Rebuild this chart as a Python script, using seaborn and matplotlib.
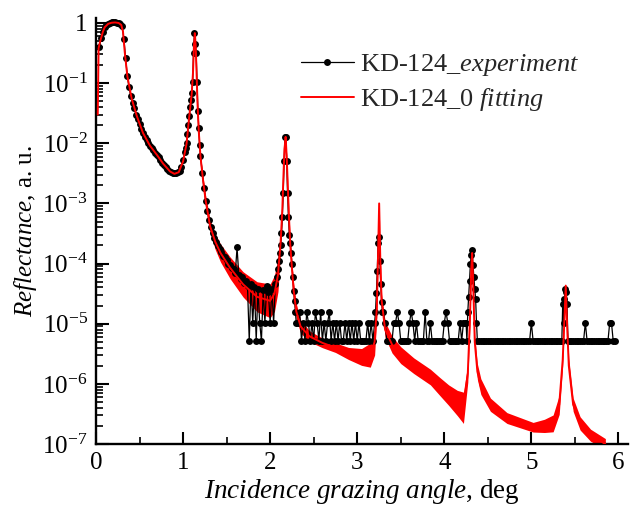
import numpy as np
import pandas as pd
import matplotlib
matplotlib.use("Agg")
import matplotlib.pyplot as plt
import seaborn as sns
from matplotlib.ticker import LogLocator, MultipleLocator, FixedLocator, FuncFormatter, NullFormatter

# ---------------- measured reflectance (scan segments: start, step, values) ----------------
count_unit = 5.2e-6  # reflectance of one detector count

edge_refl = [0.40, 0.56, 0.72, 0.85, 0.93, 0.98, 1.0, 1.02, 1.02, 1.02,
             1.01, 1.0, 0.96, 0.88, 0.55, 0.26, 0.13, 0.085, 0.060, 0.047,
             0.038, 0.030, 0.025, 0.021, 0.0175, 0.0148, 0.0128, 0.0112, 0.0100, 0.0091,
             0.0083, 0.0076, 0.0070, 0.0064, 0.0058, 0.0052, 0.0047, 0.0043, 0.0040, 0.0037,
             0.0035, 0.0033, 0.0032, 0.0032, 0.0032, 0.0033, 0.0035, 0.0041, 0.0052, 0.0072]
bragg1_refl = [0.0085, 0.010, 0.014, 0.020, 0.028, 0.040, 0.052, 0.068, 0.105, 0.32,
               0.67, 0.45, 0.32, 0.105, 0.035, 0.018, 0.0095, 0.0062]
tail1_refl = [3.2e-3, 1.8e-3, 1.1e-3, 7.5e-4, 5.2e-4, 4.0e-4, 3.2e-4, 2.7e-4, 2.3e-4, 1.95e-4,
              1.75e-4, 1.55e-4, 1.35e-4, 1.3e-4, 1.15e-4, 1.0e-4, 9.5e-5, 8.5e-5, 8.0e-5, 7.0e-5,
              1.85e-4, 6.5e-5, 5.5e-5, 6.0e-5, 4.8e-5, 5.2e-5, 4.2e-5, 5.2e-6, 4.5e-5, 1.04e-5,
              4.0e-5, 5.2e-6, 3.8e-5, 1.04e-5, 5.2e-6, 3.6e-5, 1.04e-5, 4.2e-5, 3.4e-5, 1.04e-5,
              3.8e-5, 1.04e-5, 4.5e-5, 6.0e-5]
bragg2_refl = [8.0e-5, 1.1e-4, 1.5e-4, 2.0e-4, 3.2e-4, 6.0e-4, 1.5e-3, 5.0e-3, 0.0125, 0.0128,
               5.0e-3, 1.5e-3, 6.0e-4, 3.0e-4, 2.2e-4, 1.5e-4, 1.0e-4, 6.0e-5, 3.5e-5, 2.4e-5,
               1.56e-5, 1.04e-5]
floor_a_counts = [2, 3, 1, 2, 1, 3, 2, 1, 2, 1,
                  3, 2, 1, 3, 1, 2, 1, 2, 3, 1,
                  2, 1, 2, 1, 2, 1, 1, 2, 1, 2,
                  1, 2, 1, 2, 1, 2, 1, 1, 1, 1,
                  2, 1, 2, 1, 2]
bragg3_refl = [1.56e-5, 3.2e-5, 7.5e-5, 2.2e-4, 2.75e-4, 1.1e-4, 4.5e-5, 2.3e-5, 1.56e-5, 1.56e-5]
floor_b_counts = [2, 1, 1, 1, 1, 2, 2, 3, 2, 1,
                  1, 1, 1, 1, 2, 3, 2, 1, 2, 1,
                  1, 1, 1, 3, 1, 1, 2, 1, 1, 1,
                  1, 1, 1, 1, 2, 3, 2, 1, 1, 1,
                  1, 1, 1, 2, 1, 2, 2]
bragg4_refl = [1.04e-5, 5.2e-6, 1.56e-5, 2.75e-5, 5.2e-5, 1.0e-4, 1.4e-4, 1.65e-4, 9.3e-5, 5.9e-5,
               3.8e-5, 2.6e-5, 1.04e-5, 5.2e-6]
floor_c_counts = [1, 1, 1, 1, 1, 1, 1, 1, 1, 1,
                  1, 1, 1, 1, 1, 1, 1, 1, 1, 1,
                  1, 1, 1, 1, 1, 1, 1, 1, 1, 1,
                  2, 1, 1, 1, 1, 1, 1, 1, 1, 1,
                  1, 1, 1, 1, 1, 1, 1, 1]
bragg5_refl = [5.2e-6, 2.1e-5, 1.04e-5, 2.6e-5, 3.8e-5, 3.4e-5, 2.1e-5, 5.2e-6]
floor_d_counts = [1, 1, 1, 1, 1, 1, 1, 1, 1, 2,
                  1, 1, 1, 1, 1, 1, 1, 1, 1, 1,
                  1, 1, 1, 2, 2, 1, 1]

exp_segments = [
    (0.04, 0.02, edge_refl),
    (1.03, 0.01, bragg1_refl),
    (1.22, 0.02, tail1_refl),
    (2.09, 0.01, bragg2_refl),
    (2.32, 0.02, [c * count_unit for c in floor_a_counts]),
    (3.21, 0.01, bragg3_refl),
    (3.32, 0.02, [c * count_unit for c in floor_b_counts]),
    (4.25, 0.01, bragg4_refl),
    (4.40, 0.02, [c * count_unit for c in floor_c_counts]),
    (5.35, 0.01, bragg5_refl),
    (5.44, 0.02, [c * count_unit for c in floor_d_counts]),
]

# ---------------- model fit (centre line and fringe amplitude in decades) ----------------
fit_angle = [0.02, 0.03, 0.04, 0.06, 0.08, 0.10, 0.14, 0.18, 0.22, 0.26,
             0.29, 0.31, 0.33, 0.36, 0.41, 0.47, 0.54, 0.62, 0.70, 0.77,
             0.85, 0.90, 0.95, 1.00, 1.04, 1.07, 1.10, 1.115, 1.125, 1.135,
             1.145, 1.155, 1.165, 1.18, 1.20, 1.23, 1.26, 1.31, 1.37, 1.43,
             1.54, 1.69, 1.85, 2.00, 2.05, 2.09, 2.12, 2.14, 2.155, 2.165,
             2.178, 2.19, 2.20, 2.215, 2.23, 2.25, 2.27, 2.30, 2.35, 2.45,
             2.60, 2.75, 2.90, 3.05, 3.15, 3.20, 3.225, 3.24, 3.252, 3.265,
             3.28, 3.32, 3.40, 3.50, 3.65, 3.84, 3.95, 4.05, 4.15, 4.22,
             4.27, 4.295, 4.31, 4.32, 4.33, 4.35, 4.38, 4.42, 4.53, 4.72,
             5.02, 5.15, 5.25, 5.32, 5.36, 5.38, 5.395, 5.41, 5.43, 5.48,
             5.56, 5.68, 5.85]
fit_refl = [0.03, 0.38, 0.45, 0.57, 0.72, 0.85, 0.97, 1.01, 1.02, 1.0,
            0.93, 0.72, 0.33, 0.13, 0.055, 0.028, 0.0148, 0.0091, 0.0064, 0.0046,
            0.0034, 0.0031, 0.0033, 0.0050, 0.0098, 0.027, 0.068, 0.16, 0.42, 0.68,
            0.42, 0.15, 0.05, 0.016, 0.0060, 0.0024, 0.0011, 4.2e-4, 2.3e-4, 1.5e-4,
            8.5e-5, 4.5e-5, 2.8e-5, 2.4e-5, 3.2e-5, 6.5e-5, 2.2e-4, 8.0e-4, 3.5e-3, 8.0e-3,
            0.0128, 6.0e-3, 2.5e-3, 6.5e-4, 2.2e-4, 8.5e-5, 3.6e-5, 1.6e-5, 9.0e-6, 6.2e-6,
            4.8e-6, 4.0e-6, 3.2e-6, 2.8e-6, 3.0e-6, 5.0e-6, 1.8e-5, 1.5e-4, 1.0e-3, 1.2e-4,
            2.5e-5, 8.0e-6, 4.5e-6, 3.0e-6, 2.0e-6, 1.3e-6, 9.0e-7, 6.5e-7, 4.8e-7, 4.0e-7,
            1.5e-6, 1.2e-5, 8.0e-5, 1.5e-4, 6.0e-5, 5.0e-6, 1.6e-6, 9.0e-7, 4.5e-7, 2.7e-7,
            1.9e-7, 2.0e-7, 2.2e-7, 4.5e-7, 2.5e-6, 1.2e-5, 4.3e-5, 1.0e-5, 2.0e-6, 4.5e-7,
            2.2e-7, 1.4e-7, 1.0e-7]
fit_ripple = [0, 0, 0, 0, 0, 0, 0, 0, 0, 0,
              0, 0, 0, 0, 0, 0, 0, 0, 0, 0,
              0, 0, 0, 0, 0, 0, 0, 0, 0, 0,
              0, 0, 0, 0.02, 0.04, 0.06, 0.08, 0.11, 0.13, 0.15,
              0.18, 0.21, 0.25, 0.28, 0.30, 0.28, 0.15, 0.08, 0.04, 0.02,
              0.02, 0.03, 0.04, 0.06, 0.08, 0.10, 0.12, 0.13, 0.11, 0.09,
              0.08, 0.08, 0.10, 0.14, 0.20, 0.22, 0.15, 0.06, 0.02, 0.06,
              0.10, 0.13, 0.14, 0.14, 0.13, 0.13, 0.15, 0.17, 0.21, 0.26,
              0.15, 0.08, 0.04, 0.02, 0.05, 0.10, 0.13, 0.13, 0.11, 0.09,
              0.08, 0.11, 0.14, 0.16, 0.10, 0.06, 0.02, 0.06, 0.12, 0.11,
              0.11, 0.10, 0.09]

x_ticks = [0, 1, 2, 3, 4, 5, 6]
y_decades = [-7, -6, -5, -4, -3, -2, -1, 0]

# ---------------- assemble tables ----------------
angles, refl = [], []
for start, step, vals in exp_segments:
    angles.append(np.round(start + step * np.arange(len(vals)), 3))
    refl.append(np.asarray(vals, dtype=float))
exp_df = pd.DataFrame({"angle": np.concatenate(angles), "refl": np.concatenate(refl)})

fit_df = pd.DataFrame({"angle": fit_angle, "refl": fit_refl, "ripple": fit_ripple})
fit_df["lo"] = fit_df["refl"] / 10 ** fit_df["ripple"]
fit_df["hi"] = fit_df["refl"] * 10 ** fit_df["ripple"]

# ---------------- style ----------------
sns.set_theme(style="ticks")
plt.rcParams.update({
    "font.family": ["Liberation Serif", "DejaVu Serif"],
    "mathtext.fontset": "custom",
    "mathtext.rm": "Liberation Serif",
    "mathtext.it": "Liberation Serif:italic",
    "mathtext.bf": "Liberation Serif:bold",
    "axes.unicode_minus": True,
})

fig = plt.figure(figsize=(6.3, 5.08), dpi=100)
ax = fig.add_axes([96 / 630, 1 - 444 / 508, (628 - 96) / 630, (444 - 18) / 508])

# fringe envelope of the fit sits under the measured points, fit centre line on top
ax.fill_between(fit_df["angle"], fit_df["lo"], fit_df["hi"], color="red", lw=0, zorder=1.5)
sns.lineplot(data=exp_df, x="angle", y="refl", ax=ax, color="black", lw=0.9,
             marker="o", markersize=5, markeredgewidth=0, estimator=None, sort=False,
             label="KD-124_$\\mathit{experiment}$", zorder=2)
sns.lineplot(data=fit_df, x="angle", y="refl", ax=ax, color="red", lw=1.4,
             estimator=None, sort=False, label="KD-124_0 $\\mathit{fitting}$", zorder=4)

ax.set_yscale("log")
ax.set_ylim(1e-7, 1.21)
ax.set_xlim(0, 6.11)

ax.xaxis.set_minor_locator(MultipleLocator(0.5))
ax.set_xticks(x_ticks)
ax.set_xticklabels([str(t) for t in x_ticks])
ax.yaxis.set_major_locator(FixedLocator([10.0 ** e for e in y_decades]))
ax.yaxis.set_minor_locator(LogLocator(base=10, subs=np.arange(2, 10), numticks=20))
ax.yaxis.set_minor_formatter(NullFormatter())


def decade_label(v, pos):
    e = int(round(np.log10(v)))
    return "1" if e == 0 else r"$10^{%d}$" % e


ax.yaxis.set_major_formatter(FuncFormatter(decade_label))

ax.tick_params(which="both", direction="in", top=False, right=False, colors="black",
               labelsize=18, labelcolor="black")
ax.tick_params(which="major", length=9, width=1.5, pad=6)
ax.tick_params(which="minor", length=5, width=1.2)
for side in ("top", "right"):
    ax.spines[side].set_visible(False)
for side in ("left", "bottom"):
    ax.spines[side].set_linewidth(1.7)
    ax.spines[side].set_color("black")

ax.set_xlabel(r"$\mathit{Incidence\ grazing\ angle}$, deg", fontsize=19.5, labelpad=2,
              color="black")
ax.set_ylabel(r"$\mathit{Reflectance}$, a. u.", fontsize=18, labelpad=2, color="black")

ax.legend(loc="upper left", bbox_to_anchor=(0.385, 0.92), frameon=False, fontsize=19,
          handlelength=2.0, handletextpad=0.25, labelspacing=0.3, borderaxespad=0,
          borderpad=0)

fig.savefig("out.png", dpi=100)
